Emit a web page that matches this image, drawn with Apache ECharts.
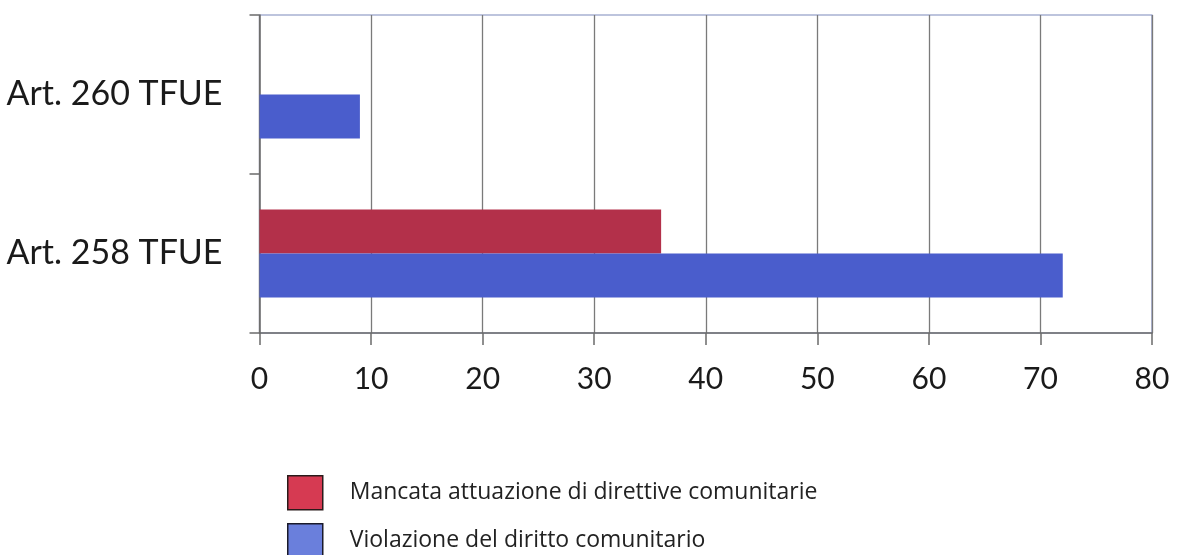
<!DOCTYPE html>
<html>
<head>
<meta charset="utf-8">
<script src="https://cdn.jsdelivr.net/npm/echarts@6/dist/echarts.min.js"></script>
<style>
  html, body { margin: 0; padding: 0; background: #ffffff; }
  #chart { width: 1178px; height: 555px; }
</style>
</head>
<body>
<div id="chart"></div>
<script>
// Categories, bottom to top on the vertical axis
const categories = ['Art. 258 TFUE', 'Art. 260 TFUE'];
const seriesNames = ['Mancata attuazione di direttive comunitarie', 'Violazione del diritto comunitario'];
// Values per category (same order as categories)
const mancataAttuazione = [36, null];
const violazioneDiritto = [72, 9];
const xTicks = { min: 0, max: 80, interval: 10 };

const FONT = 'Lato, "Open Sans", sans-serif';
const LEGEND_FONT = '"Open Sans", Lato, sans-serif';

const legendSwatch = {
  [seriesNames[0]]: { color: '#d63a52', borderColor: '#2a1a1a', borderWidth: 1.5 },
  [seriesNames[1]]: { color: '#6a7fdc', borderColor: '#1a1a2a', borderWidth: 1.5 }
};

// One legend block per entry so the two rows stack without wrapping
function legendRow(name, top) {
  return {
    orient: 'vertical',
    left: 287, top: top, padding: 0,
    itemWidth: 35, itemHeight: 34,
    icon: 'rect',
    data: [{ name: name, itemStyle: legendSwatch[name] }],
    textStyle: { fontFamily: LEGEND_FONT, fontSize: 23, color: '#222222', padding: [2, 0, 0, 22] },
    selectedMode: false
  };
}

const chart = echarts.init(document.getElementById('chart'), null, { renderer: 'canvas' });

chart.setOption({
  backgroundColor: '#ffffff',
  animation: false,
  grid: {
    left: 259.5, right: 26, top: 15, bottom: 222,
    show: true, borderColor: '#7d89bb', borderWidth: 1.2, backgroundColor: 'transparent'
  },
  legend: [legendRow(seriesNames[0], 475), legendRow(seriesNames[1], 523)],
  xAxis: {
    type: 'value',
    min: xTicks.min, max: xTicks.max, interval: xTicks.interval,
    axisLine: { show: true, lineStyle: { color: '#6b6b6b', width: 1.5 } },
    axisTick: { show: true, length: 12, inside: false, lineStyle: { color: '#6b6b6b', width: 1.5 } },
    splitLine: { show: true, lineStyle: { color: '#7a7a7a', width: 1.3 } },
    axisLabel: { fontFamily: FONT, fontSize: 30, color: '#1a1a1a', margin: 31 }
  },
  yAxis: {
    type: 'category',
    data: categories,
    axisLine: { show: true, lineStyle: { color: '#6b6b6b', width: 1.5 } },
    axisTick: { show: true, length: 10, lineStyle: { color: '#6b6b6b', width: 1.5 } },
    axisLabel: { fontFamily: FONT, fontSize: 34, color: '#1a1a1a', margin: 37, padding: [6, 0, 0, 0] },
    splitLine: { show: false }
  },
  series: [
    {
      name: seriesNames[0], type: 'bar', data: mancataAttuazione,
      barWidth: 44, barGap: '0%',
      itemStyle: { color: '#b3304a' }
    },
    {
      name: seriesNames[1], type: 'bar', data: violazioneDiritto,
      barWidth: 44, barGap: '0%',
      itemStyle: { color: '#4a5dcc' }
    }
  ]
});
</script>
</body>
</html>
